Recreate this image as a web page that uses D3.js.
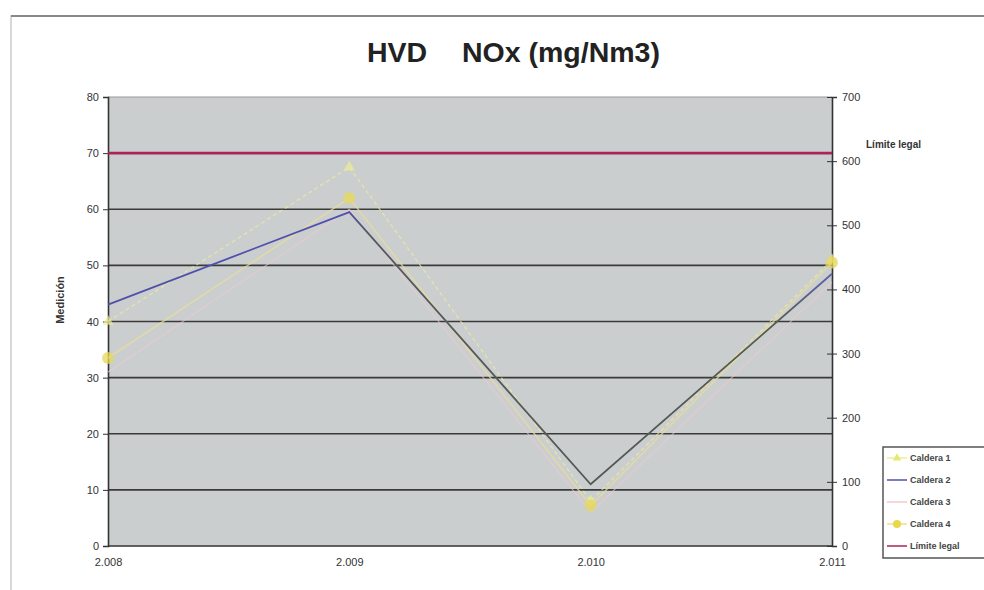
<!DOCTYPE html>
<html><head><meta charset="utf-8">
<script src="https://cdn.jsdelivr.net/npm/d3@7"></script>
<style>body{margin:0;background:#fff}svg{display:block;font-family:Arial,"Liberation Sans",sans-serif}</style>
</head><body><svg id="c" width="984" height="590"></svg>
<script>
const years = ["2.008","2.009","2.010","2.011"];
const caldera1 = [40, 67.5, 8, 51];
const caldera2 = [43, 59.5, 11, 48.5];
const caldera3 = [31, 60, 6, 47];
const caldera4 = [33.5, 62, 7.2, 50.5];
const limite = [70, 70, 70, 70];
const leftTicks = [0,10,20,30,40,50,60,70,80];
const rightTicks = [0,100,200,300,400,500,600,700];
const legendNames = ["Caldera 1","Caldera 2","Caldera 3","Caldera 4","Límite legal"];

const svg = d3.select("#c");
const L=108, R=832, T=97, B=546;
const x = d3.scalePoint().domain(years).range([L,R]);
const y = d3.scaleLinear().domain([0,80]).range([B,T]);
const y2 = d3.scaleLinear().domain([0,700]).range([B,T]);

const defs = svg.append("defs");
const gr = defs.append("linearGradient").attr("id","g2").attr("gradientUnits","userSpaceOnUse")
  .attr("x1",L).attr("x2",R).attr("y1",0).attr("y2",0);
gr.append("stop").attr("offset","0%").attr("stop-color","#5050a8");
gr.append("stop").attr("offset","33%").attr("stop-color","#5050b0");
gr.append("stop").attr("offset","36%").attr("stop-color","#55585e");
gr.append("stop").attr("offset","92%").attr("stop-color","#555a4e");
gr.append("stop").attr("offset","100%").attr("stop-color","#6060b0");

// chart frame
svg.append("rect").attr("x",11).attr("y",16).attr("width",990).attr("height",600)
  .attr("fill","#fff").attr("stroke","#ccc").attr("stroke-width",1.5);
svg.append("line").attr("x1",11).attr("x2",984).attr("y1",16).attr("y2",16).attr("stroke","#888").attr("stroke-width",2);

const title = svg.append("text").attr("y",62).attr("font-size",28.5).attr("font-weight","bold").attr("fill","#222");
title.append("tspan").attr("x",367).text("HVD");
title.append("tspan").attr("x",462).text("NOx (mg/Nm3)");

// plot area
svg.append("rect").attr("x",L).attr("y",T).attr("width",R-L).attr("height",B-T).attr("fill","#cbcecf");

// gridlines
svg.append("g").selectAll("line").data(leftTicks.filter(d=>d>0&&d<80)).join("line")
  .attr("x1",L).attr("x2",R).attr("y1",d=>y(d)).attr("y2",d=>y(d))
  .attr("stroke","#3a3a3a").attr("stroke-width",1.6);
svg.append("line").attr("x1",L).attr("x2",R).attr("y1",T).attr("y2",T).attr("stroke","#999").attr("stroke-width",1);

// axes
const ax = svg.append("g").attr("transform",`translate(${L},0)`)
  .call(d3.axisLeft(y).tickValues(leftTicks).tickSize(5).tickPadding(4));
const ax2 = svg.append("g").attr("transform",`translate(${R},0)`)
  .call(d3.axisRight(y2).tickValues(rightTicks).tickSize(5).tickPadding(5));
ax2.selectAll(".tick line").attr("x1",-5);
const axb = svg.append("g").attr("transform",`translate(0,${B})`)
  .call(d3.axisBottom(x).tickSize(0).tickPadding(12));
[ax,ax2,axb].forEach(a=>{
  a.selectAll("path").attr("stroke","#333").attr("stroke-width",1.6);
  a.selectAll("line").attr("stroke","#333");
  a.selectAll("text").attr("font-size",11).attr("fill","#333").attr("font-family","Arial, sans-serif");
});
axb.selectAll("path").attr("d",`M${L},0H${R}`);

svg.append("text").attr("transform","translate(64,300) rotate(-90)").attr("text-anchor","middle")
  .attr("font-size",11).attr("font-weight","bold").attr("fill","#333").text("Medición");
svg.append("text").attr("x",866).attr("y",148).attr("font-size",10).attr("font-weight","bold")
  .attr("fill","#333").text("Límite legal");

const line = d3.line().x((d,i)=>x(years[i])).y(d=>y(d));
const series = [
  {v:caldera1,c:"#eeee9a",w:1.3,dash:"4,3",op:0.7,m:"tri",mc:"#eded90"},
  {v:caldera3,c:"#efc9d0",w:1.1,dash:null,op:0.7,m:null},
  {v:caldera4,c:"#eadb9c",w:1.6,dash:null,op:0.75,m:"circ",mc:"#e6d85a"},
  {v:caldera2,c:"url(#g2)",w:1.8,dash:null,op:1,m:null},
  {v:limite,c:"#a82656",w:2.6,dash:null,op:1,m:null}
];
series.forEach(s=>{
  svg.append("path").attr("d",line(s.v)).attr("fill","none").attr("stroke",s.c)
    .attr("stroke-width",s.w).attr("stroke-dasharray",s.dash).attr("opacity",s.op);
  if(s.m==="circ"){
    svg.append("g").selectAll("circle").data(s.v).join("circle")
      .attr("cx",(d,i)=>x(years[i])).attr("cy",d=>y(d)).attr("r",6).attr("fill",s.mc).attr("opacity",0.75);
  } else if(s.m==="tri"){
    svg.append("g").selectAll("path").data(s.v).join("path")
      .attr("d",d3.symbol(d3.symbolTriangle,55))
      .attr("transform",(d,i)=>`translate(${x(years[i])},${y(d)})`).attr("fill",s.mc).attr("opacity",0.7);
  }
});

// legend
const lg = svg.append("g").attr("transform","translate(883,447)");
lg.append("rect").attr("width",110).attr("height",111).attr("fill","#fff").attr("stroke","#555").attr("stroke-width",1.5);
const lgStyles = [
  {c:"#eeee9a",m:"tri",mc:"#e8e870"},
  {c:"#5050a8",m:null},
  {c:"#f2c8cf",m:null},
  {c:"#eedc95",m:"circ",mc:"#e8d84a"},
  {c:"#a82656",m:null}
];
legendNames.forEach((n,i)=>{
  const yy = 11 + i*22;
  const st = lgStyles[i];
  lg.append("line").attr("x1",4).attr("x2",24).attr("y1",yy).attr("y2",yy).attr("stroke",st.c).attr("stroke-width",1.5);
  if(st.m==="circ") lg.append("circle").attr("cx",14).attr("cy",yy).attr("r",4).attr("fill",st.mc);
  if(st.m==="tri") lg.append("path").attr("d",d3.symbol(d3.symbolTriangle,30)).attr("transform",`translate(14,${yy})`).attr("fill",st.mc);
  lg.append("text").attr("x",27).attr("y",yy+3).attr("font-size",9).attr("font-weight","bold").attr("fill","#444").text(n);
});
</script></body></html>
